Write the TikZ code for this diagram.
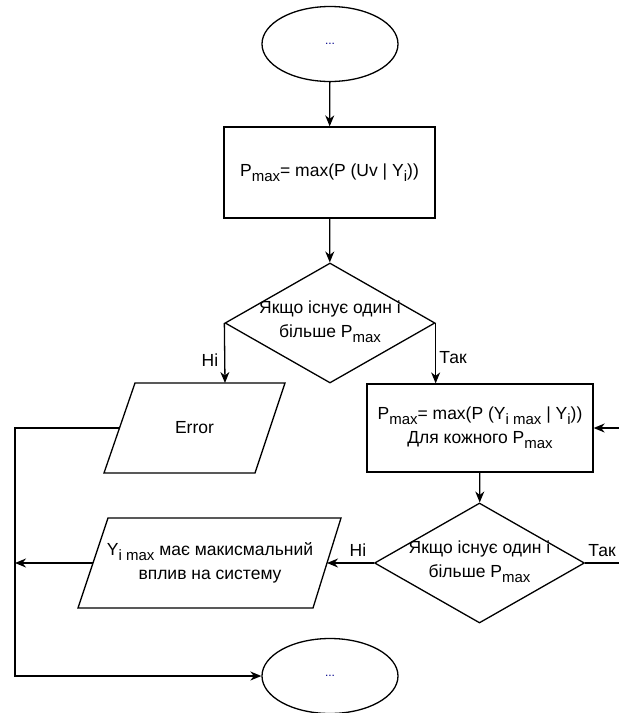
\documentclass[tikz,border=0pt]{standalone}
\usepackage{fontspec}
\setmainfont{Liberation Sans}
\usetikzlibrary{shapes.geometric,arrows.meta}
\newcommand{\lsub}[1]{\raisebox{-0.3em}{\fontsize{15}{15}\selectfont #1}}
\begin{document}
\begin{tikzpicture}[x=1pt,y=-1pt,
  font=\fontsize{17.5}{24}\selectfont,
  line width=1.3pt,
  arr/.style={-{Stealth[length=11pt,width=9pt,inset=3.5pt]}},
  ell/.style={ellipse,draw,minimum width=136pt,minimum height=75pt,inner sep=0pt},
  box/.style={rectangle,draw,inner sep=0pt,align=center},
  dia/.style={diamond,draw,minimum width=210pt,minimum height=120pt,inner sep=0pt},
  lbl/.style={inner sep=0pt,align=center},
  dotc/.style={text=black!45!blue,font=\fontsize{12}{12}\selectfont}]
\clip (0,0) rectangle (619,713);
\fill[white] (0,0) rectangle (619,713);
% nodes
\node[ell,dotc] (s) at (330,44) {...};
\node[box,minimum width=211pt,minimum height=91pt] (p1) at (329.5,172.5)
  {P\lsub{max}= max(P (Uv | Y\lsub{i}))};
\node[dia] (d1) at (330,323) {};
\node[lbl] (t1) at (330,322) {Якщо існує один і\\більше P\lsub{max}};
\node[lbl] (err) at (194.5,428) {Error};
\draw (135,383) -- (285,383) -- (255,473) -- (104,473) -- cycle;
\coordinate (errN) at (225,383);
\coordinate (errW) at (119.5,428);
\node[box,minimum width=226pt,minimum height=88pt] (r2) at (480,428)
  {P\lsub{max}= max(P (Y\lsub{i max} | Y\lsub{i}))\\Для кожного P\lsub{max}};
\node[dia] (d2) at (479.5,563) {};
\node[lbl] (t2) at (479.5,562) {Якщо існує один і\\більше P\lsub{max}};
\node[lbl] (p2) at (210,563) {Y\lsub{i max} має макисмальний\\вплив на систему};
\draw (108,518) -- (341,518) -- (313,608) -- (78,608) -- cycle;
\coordinate (p2W) at (93,563);
\coordinate (p2E) at (327,563);
\node[ell,dotc] (e) at (330,676) {...};
\node[lbl] (n1) at (210,360) {Ні};
\node[lbl] (y1) at (453,358) {Так};
\node[lbl] (n2) at (358,550) {Ні};
\node[lbl] (y2) at (602,551) {Так};
\coordinate (c1) at (15,428);
\coordinate (c2) at (15,676);
\coordinate (c3) at (15,563);
\coordinate (in) at (619,428);
\coordinate (out) at (619,563);
% connectors
\draw[arr] (s) -- (p1);
\draw[arr] (p1) -- (d1);
\draw[arr] (d1.west) -- (errN);
\draw[arr] (d1.east) -- (d1.east |- r2.north);
\draw[arr] (errW) -- (c1) -- (c2) -- (e.west);
\draw[arr] (p2W) -- (c3);
\draw[arr] (d2.west) -- (p2E);
\draw[arr] (r2) -- (d2);
\draw[arr] (in) -- (r2.east);
\draw (d2.east) -- (out);
\end{tikzpicture}
\end{document}
